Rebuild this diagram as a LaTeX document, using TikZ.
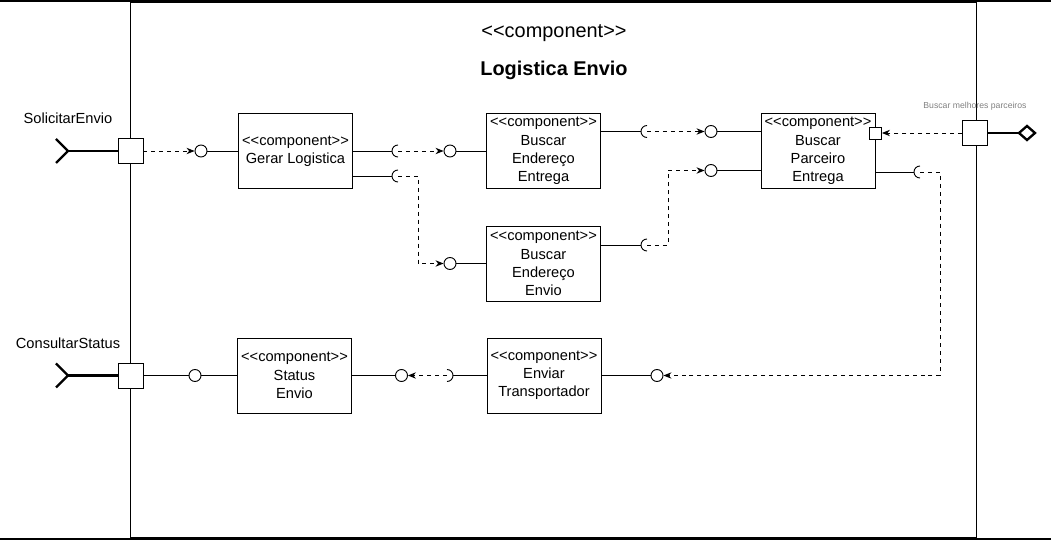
\documentclass[tikz,border=0pt]{standalone}
\usepackage{fontspec}
\setmainfont{Liberation Sans}[Ligatures=TeXOff]
\usetikzlibrary{arrows.meta,calc}

\newcommand\stereo{<<component>>}
% half circle of a required interface, opening right / left
\newcommand\sockl[1]{\draw ([yshift=1.8mm]#1) arc[start angle=90,end angle=270,radius=1.8mm];}
\newcommand\sockr[1]{\draw ([yshift=1.8mm]#1) arc[start angle=90,end angle=-90,radius=1.8mm];}

\begin{document}
\begin{tikzpicture}[x=0.03cm,y=-0.03cm,line width=0.8pt,
  comp/.style={draw,minimum width=3.42cm,minimum height=2.25cm,align=center,
               inner sep=0pt,font=\fontsize{12.5}{15.6}\selectfont},
  lolli/.style={draw,circle,fill=white,minimum size=3.6mm,inner sep=0pt},
  port/.style={draw,fill=white,minimum size=7.5mm,inner sep=0pt},
  dep/.style={dash pattern=on 3.4pt off 3.4pt,-{Stealth[length=2.4mm,width=1.9mm]}},
  thk/.style={line width=2pt},
  lbl/.style={font=\fontsize{12.5}{15}\selectfont}]

  \useasboundingbox (0,0) rectangle (1051,540);

% outer frame
  \draw[line width=1.5pt] (0,1) -- (1051,1);
  \draw[line width=1.5pt] (0,539) -- (1051,539);
  \draw (130,2) rectangle (976,537);
  \node[font=\fontsize{17}{20}\selectfont] (stereotop) at (554,33) {\stereo};
  \node[font=\fontsize{17}{20}\selectfont\bfseries] (title) at (554,70) {Logistica Envio};

% ports and their labels
  \node[port] (pSol) at (130.5,151) {};
  \node[port] (pCon) at (130.5,375.5) {};
  \node[port] (pBus) at (975,133) {};
  \node[lbl] (lSol) at (68,118) {SolicitarEnvio};
  \node[lbl] (lCon) at (68,343) {ConsultarStatus};
  \node[font=\fontsize{7.4}{9}\selectfont,text=gray] (lBus) at (975,106) {Buscar melhores parceiros};

% components
  \node[comp] (gerar)    at (295.5,151)   {\stereo\\Gerar Logistica};
  \node[comp] (entrega)  at (543.5,151)   {\stereo\\Buscar\\Endereço\\Entrega};
  \node[comp] (envio)    at (543.5,263.5) {\stereo\\Buscar\\Endereço\\Envio};
  \node[comp] (parceiro) at (818,151)     {\stereo\\Buscar\\Parceiro\\Entrega};
  \node[comp] (status)   at (294.5,375.5) {\stereo\\Status\\Envio};
  \node[comp] (enviar)   at (544,375.5)   {\stereo\\Enviar\\Transportador};
  \node[port,minimum size=3.6mm] (pPar) at (parceiro.east |- pBus) {};

% provided interfaces
  \node[lolli] (c1) at (201,151) {};
  \node[lolli] (c2) at (450,151) {};
  \node[lolli] (c3) at (450,263.5) {};
  \node[lolli] (c4) at (711,131.5) {};
  \node[lolli] (c5) at (711,170.5) {};
  \node[lolli] (c6) at (657,375.5) {};
  \node[lolli] (c7) at (401.5,375.5) {};
  \node[lolli] (c8) at (195,375.5) {};

% required interfaces
  \coordinate (s1) at (398,151);
  \coordinate (s2) at (398,176);
  \coordinate (s3) at (647,131.5);
  \coordinate (s4) at (647,245);
  \coordinate (s5) at (920,172);
  \coordinate (s6) at (447,375.5);

% SolicitarEnvio
  \coordinate (rSol) at (68,151);
  \draw[thk] (rSol) -- (pSol);
  \draw[thk] (rSol) ++(-12,-12) -- (rSol) -- ++(-12,12);
  \draw[dep] (pSol) -- (c1);
  \draw (c1) -- (gerar);

% Gerar Logistica
  \draw (gerar.east |- s1) -- ([xshift=-1.8mm]s1); \sockl{s1}
  \draw[dep] (s1) -- (c2);
  \draw (c2) -- (entrega);
  \draw (gerar.east |- s2) -- ([xshift=-1.8mm]s2); \sockl{s2}
  \draw[dep] (s2) -- ++(20,0) |- (c3);
  \draw (c3) -- (envio);

% Buscar Endereco
  \draw (entrega.east |- s3) -- ([xshift=-1.8mm]s3); \sockl{s3}
  \draw[dep] (s3) -- (c4);
  \draw (c4) -- (c4 -| parceiro.west);
  \draw (envio.east |- s4) -- ([xshift=-1.8mm]s4); \sockl{s4}
  \draw[dep] (s4) -- ++(21,0) |- (c5);
  \draw (c5) -- (c5 -| parceiro.west);

% Buscar Parceiro
  \draw (parceiro.east |- s5) -- ([xshift=-1.8mm]s5); \sockl{s5}
  \draw[dep] (s5) -- ++(20,0) |- (c6);
  \draw (c6) -- (enviar);
  \coordinate (dBus) at (1027,133);
  \draw[thk] (pBus) -- ([xshift=-2.4mm]dBus);
  \draw[thk,fill=white] (dBus) ++(-8,0) -- ++(8,-7) -- ++(8,7) -- ++(-8,7) -- cycle;
  \draw[dep] (pBus) -- (pPar);

% Enviar Transportador and Status Envio
  \draw (enviar) -- ([xshift=1.8mm]s6); \sockr{s6}
  \draw[dep] (s6) -- (c7);
  \draw (c7) -- (status);
  \draw (status) -- (c8);
  \draw (c8) -- (pCon);

% ConsultarStatus
  \coordinate (rCon) at (68,375.5);
  \draw[thk] (rCon) -- (pCon);
  \draw[thk] (rCon) ++(-12,-12) -- (rCon) -- ++(-12,12);

\end{tikzpicture}
\end{document}
